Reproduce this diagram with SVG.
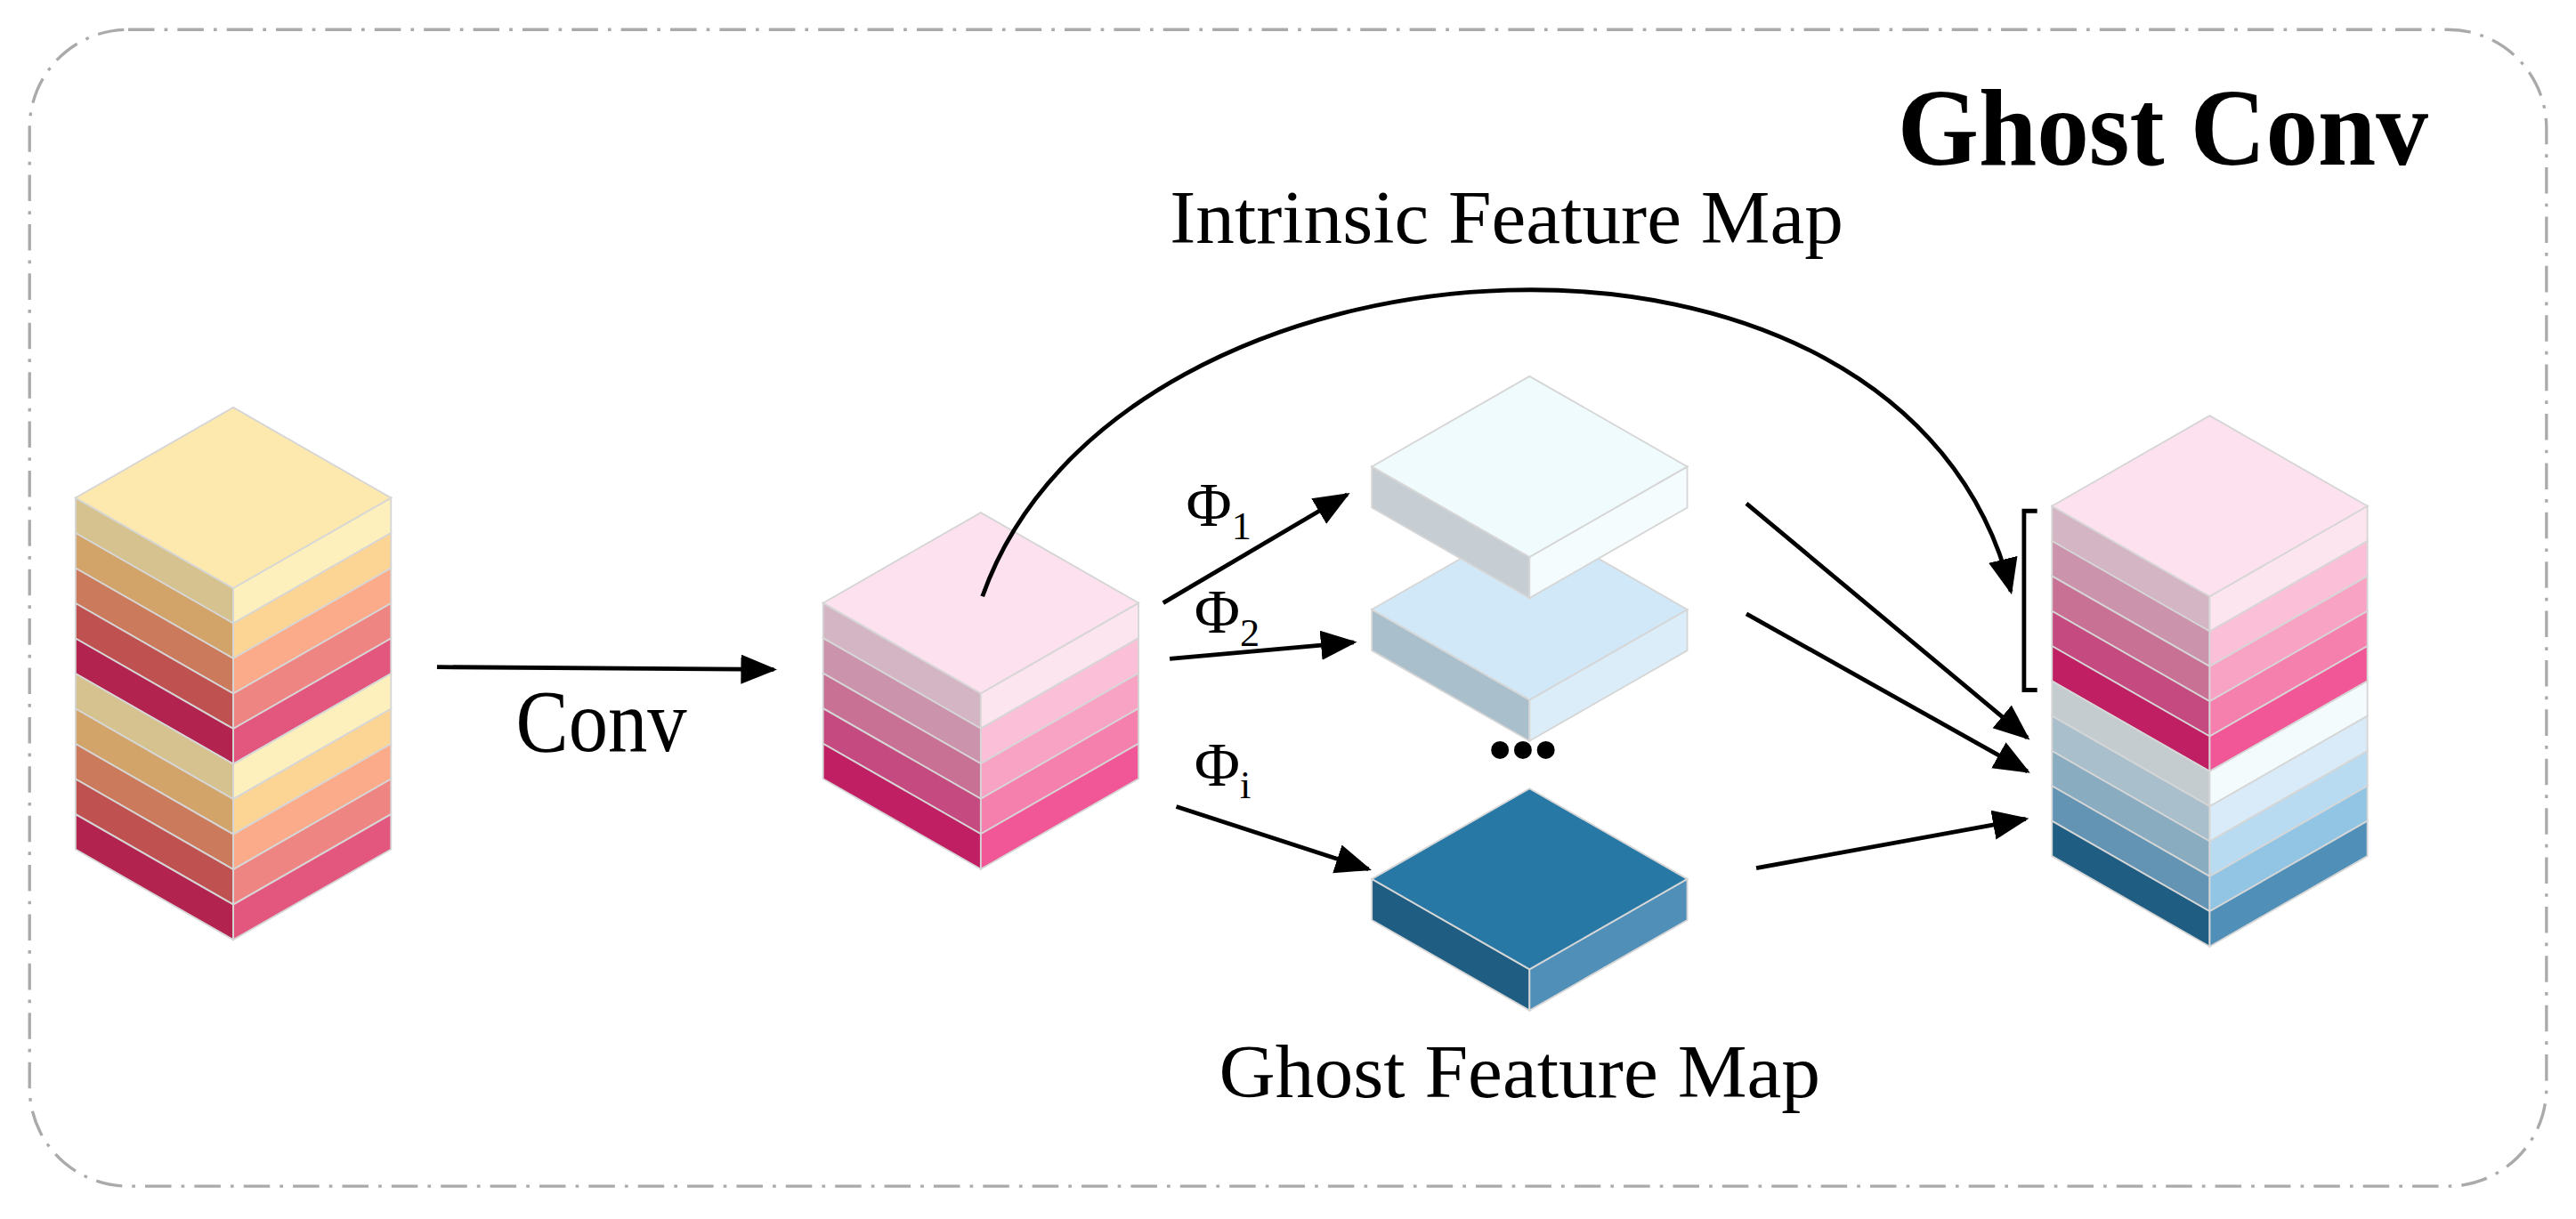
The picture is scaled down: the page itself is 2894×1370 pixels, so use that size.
<svg xmlns="http://www.w3.org/2000/svg" xmlns:xlink="http://www.w3.org/1999/xlink" width="2894" height="1370" viewBox="0 0 2894 1370">
<style>
.f{stroke:#d6d6d6;stroke-width:1}
.t{font-family:"Liberation Serif",serif;fill:#000}
.c{fill:none;stroke:#000;stroke-width:2.6}
</style>
<defs>
<polygon id="top" class="f" points="0,0 96,55 0,110 -96,55"/>
<polygon id="lf" class="f" points="-96,55 0,110 0,131.4 -96,76.4"/>
<polygon id="rf" class="f" points="96,55 0,110 0,131.4 96,76.4"/>
<polygon id="blf" class="f" points="-96,55 0,110 0,135 -96,80"/>
<polygon id="brf" class="f" points="96,55 0,110 0,135 96,80"/>
<marker id="ah" markerUnits="userSpaceOnUse" markerWidth="24" markerHeight="20" refX="20" refY="9" orient="auto"><path d="M0,0 L22,9 L0,18 z" fill="#000"/></marker>
</defs>
<rect width="2894" height="1370" fill="#fff"/>
<g transform="scale(1.8457,1.8464)">
<rect x="18" y="18" width="1532" height="704" rx="60" fill="none" stroke="#aaa" stroke-width="1.8" stroke-dasharray="16,6,2,6"/>
<text class="t" x="1155" y="100" font-size="66" font-weight="bold" textLength="323" lengthAdjust="spacingAndGlyphs">Ghost Conv</text>
<text class="t" x="712" y="148" font-size="46" textLength="410" lengthAdjust="spacingAndGlyphs">Intrinsic Feature Map</text>
<text class="t" x="742" y="668" font-size="46" textLength="366" lengthAdjust="spacingAndGlyphs">Ghost Feature Map</text>
<text class="t" x="314" y="457" font-size="54" textLength="104" lengthAdjust="spacingAndGlyphs">Conv</text>

<g id="input">
<use href="#lf" transform="translate(142,248)" fill="#d6c28f"/><use href="#rf" transform="translate(142,248)" fill="#fdf0bd"/>
<use href="#lf" transform="translate(142,269.4)" fill="#d3a46a"/><use href="#rf" transform="translate(142,269.4)" fill="#fcd494"/>
<use href="#lf" transform="translate(142,290.8)" fill="#cc7a5c"/><use href="#rf" transform="translate(142,290.8)" fill="#fbab8a"/>
<use href="#lf" transform="translate(142,312.2)" fill="#bf5151"/><use href="#rf" transform="translate(142,312.2)" fill="#ef8583"/>
<use href="#lf" transform="translate(142,333.6)" fill="#b3234f"/><use href="#rf" transform="translate(142,333.6)" fill="#e3567d"/>
<use href="#lf" transform="translate(142,355)" fill="#d6c28f"/><use href="#rf" transform="translate(142,355)" fill="#fdf0bd"/>
<use href="#lf" transform="translate(142,376.4)" fill="#d3a46a"/><use href="#rf" transform="translate(142,376.4)" fill="#fcd494"/>
<use href="#lf" transform="translate(142,397.8)" fill="#cc7a5c"/><use href="#rf" transform="translate(142,397.8)" fill="#fbab8a"/>
<use href="#lf" transform="translate(142,419.2)" fill="#bf5151"/><use href="#rf" transform="translate(142,419.2)" fill="#ef8583"/>
<use href="#lf" transform="translate(142,440.6)" fill="#b3234f"/><use href="#rf" transform="translate(142,440.6)" fill="#e3567d"/>
<use href="#top" transform="translate(142,248)" fill="#fde9ad"/>
</g>

<g id="intrinsic">
<use href="#lf" transform="translate(597,312)" fill="#d4b5c4"/><use href="#rf" transform="translate(597,312)" fill="#fde5ef"/>
<use href="#lf" transform="translate(597,333.4)" fill="#cc93ac"/><use href="#rf" transform="translate(597,333.4)" fill="#fbc0d8"/>
<use href="#lf" transform="translate(597,354.8)" fill="#c87195"/><use href="#rf" transform="translate(597,354.8)" fill="#f8a3c3"/>
<use href="#lf" transform="translate(597,376.2)" fill="#c44a80"/><use href="#rf" transform="translate(597,376.2)" fill="#f580ae"/>
<use href="#lf" transform="translate(597,397.6)" fill="#c02063"/><use href="#rf" transform="translate(597,397.6)" fill="#f15797"/>
<use href="#top" transform="translate(597,312)" fill="#fde1ee"/>
</g>

<g id="ghost2">
<use href="#blf" transform="translate(931,316)" fill="#a9bfcc"/><use href="#brf" transform="translate(931,316)" fill="#daedf9"/>
<use href="#top" transform="translate(931,316)" fill="#d0e8f8"/>
</g>
<g id="ghost1">
<use href="#blf" transform="translate(931,229)" fill="#c6ced3"/><use href="#brf" transform="translate(931,229)" fill="#f4fcfe"/>
<use href="#top" transform="translate(931,229)" fill="#f0fbfd"/>
</g>
<g id="ghosti">
<use href="#blf" transform="translate(931,480)" fill="#1f5e82"/><use href="#brf" transform="translate(931,480)" fill="#4f8fb8"/>
<use href="#top" transform="translate(931,480)" fill="#2878a6"/>
</g>
<text class="t" x="927" y="470" font-size="40" font-weight="bold" text-anchor="middle">•••</text>

<g id="output">
<use href="#lf" transform="translate(1345,253)" fill="#d4b5c4"/><use href="#rf" transform="translate(1345,253)" fill="#fde5ef"/>
<use href="#lf" transform="translate(1345,274.3)" fill="#cc93ac"/><use href="#rf" transform="translate(1345,274.3)" fill="#fbc0d8"/>
<use href="#lf" transform="translate(1345,295.6)" fill="#c87195"/><use href="#rf" transform="translate(1345,295.6)" fill="#f8a3c3"/>
<use href="#lf" transform="translate(1345,316.9)" fill="#c44a80"/><use href="#rf" transform="translate(1345,316.9)" fill="#f580ae"/>
<use href="#lf" transform="translate(1345,338.2)" fill="#c02063"/><use href="#rf" transform="translate(1345,338.2)" fill="#f15797"/>
<use href="#lf" transform="translate(1345,359.5)" fill="#c5ccd0"/><use href="#rf" transform="translate(1345,359.5)" fill="#f4fbfd"/>
<use href="#lf" transform="translate(1345,380.8)" fill="#a9bfcc"/><use href="#rf" transform="translate(1345,380.8)" fill="#d9ebf8"/>
<use href="#lf" transform="translate(1345,402.1)" fill="#8aacc0"/><use href="#rf" transform="translate(1345,402.1)" fill="#b8dbf1"/>
<use href="#lf" transform="translate(1345,423.4)" fill="#6394b4"/><use href="#rf" transform="translate(1345,423.4)" fill="#92c5e4"/>
<use href="#lf" transform="translate(1345,444.7)" fill="#1f5d82"/><use href="#rf" transform="translate(1345,444.7)" fill="#508fb7"/>
<use href="#top" transform="translate(1345,253)" fill="#fde1ee"/>
</g>

<text class="t" x="722" y="320" font-size="38">Φ<tspan font-size="24" dy="8">1</tspan></text>
<text class="t" x="727" y="385" font-size="38">Φ<tspan font-size="24" dy="8">2</tspan></text>
<text class="t" x="727" y="478" font-size="38">Φ<tspan font-size="24" dy="8">i</tspan></text>

<g id="connectors">
<line class="c" x1="266" y1="406" x2="471" y2="407.5" marker-end="url(#ah)"/>
<path class="c" d="M598,363 C680,130 1160,100 1224,360" marker-end="url(#ah)"/>
<path class="c" d="M1240,311 L1232,311 L1232,420 L1240,420"/>
<line class="c" x1="708" y1="367" x2="820" y2="301" marker-end="url(#ah)"/>
<line class="c" x1="712" y1="401" x2="824" y2="391" marker-end="url(#ah)"/>
<line class="c" x1="716" y1="491" x2="833" y2="529" marker-end="url(#ah)"/>
<line class="c" x1="1063" y1="306.5" x2="1234" y2="449" marker-end="url(#ah)"/>
<line class="c" x1="1063" y1="373.6" x2="1234" y2="469.5" marker-end="url(#ah)"/>
<line class="c" x1="1069" y1="528.4" x2="1233" y2="498.5" marker-end="url(#ah)"/>
</g>
</g>
</svg>
